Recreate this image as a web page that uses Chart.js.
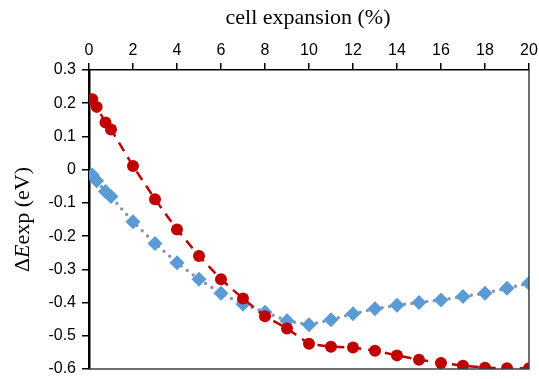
<!DOCTYPE html>
<html>
<head>
<meta charset="utf-8">
<script src="https://cdn.jsdelivr.net/npm/chart.js@4/dist/chart.umd.min.js"></script>
<style>
  html, body { margin: 0; padding: 0; background: #fff; }
  #wrap { width: 539px; height: 379px; }
</style>
</head>
<body>
<div id="wrap"><canvas id="c" width="539" height="379"></canvas></div>
<script>
// cell expansion (%)
const expansion = [0.15, 0.35, 0.75, 1, 2, 3, 4, 5, 6, 7, 8, 9, 10, 11, 12, 13, 14, 15, 16, 17, 18, 19, 20];
// red dashed series (circles)
const redVals = [0.212, 0.189, 0.142, 0.121, 0.011, -0.089, -0.18, -0.26, -0.33, -0.388, -0.441, -0.478,
                 -0.524, -0.533, -0.535, -0.545, -0.559, -0.572, -0.582, -0.59, -0.596, -0.598, -0.598];
// blue dotted series (diamonds)
const blueVals = [-0.016, -0.033, -0.066, -0.081, -0.157, -0.222, -0.28, -0.33, -0.372, -0.405, -0.429, -0.455,
                  -0.467, -0.452, -0.434, -0.419, -0.408, -0.4, -0.392, -0.382, -0.372, -0.357, -0.342];
const xTicks = [0, 2, 4, 6, 8, 10, 12, 14, 16, 18, 20];
const yTicks = [0.3, 0.2, 0.1, 0, -0.1, -0.2, -0.3, -0.4, -0.5, -0.6];

const toPts = vals => vals.map((v, i) => ({ x: expansion[i], y: v }));

// frame on right/bottom + titles
const decor = {
  id: 'decor',
  afterDraw(chart) {
    const { ctx, chartArea: a } = chart;
    ctx.save();
    ctx.strokeStyle = '#404040';
    ctx.lineWidth = 1.5;
    ctx.beginPath();
    ctx.moveTo(a.right, a.top);
    ctx.lineTo(a.right, a.bottom);
    ctx.lineTo(a.left, a.bottom);
    ctx.stroke();

    ctx.fillStyle = '#000';
    ctx.textBaseline = 'middle';
    ctx.textAlign = 'center';
    ctx.font = '22px "Liberation Serif"';
    ctx.fillText('cell expansion (%)', 308, 18);

    // y title with italic E
    const f = '22px "Liberation Serif"';
    const parts = [['Δ', f], ['E', 'italic ' + f], ['exp (eV)', f]];
    let total = 0;
    parts.forEach(p => { ctx.font = p[1]; total += ctx.measureText(p[0]).width; });
    ctx.translate(23, (a.top + a.bottom) / 2);
    ctx.rotate(-Math.PI / 2);
    ctx.textAlign = 'left';
    let x = -total / 2;
    parts.forEach(p => { ctx.font = p[1]; ctx.fillText(p[0], x, 0); x += ctx.measureText(p[0]).width; });
    ctx.restore();
  }
};

new Chart(document.getElementById('c').getContext('2d'), {
  type: 'scatter',
  data: {
    datasets: [
      { data: toPts(redVals), showLine: true, borderColor: '#C00000', borderWidth: 2.5,
        borderDash: [10, 7], backgroundColor: '#C00000', pointBackgroundColor: '#C00000',
        pointBorderWidth: 0, pointRadius: 6, pointStyle: 'circle' },
      { data: toPts(blueVals), showLine: true, borderColor: '#8797b2', borderWidth: 3.5,
        borderDash: [0, 7.5], borderCapStyle: 'round', pointBackgroundColor: '#5B9BD5',
        pointBorderWidth: 0, pointRadius: 7.5, pointStyle: 'rectRot' }
    ]
  },
  options: {
    responsive: false,
    animation: false,
    layout: { padding: { right: 10, bottom: 10, left: 0, top: 0 } },
    plugins: { legend: { display: false }, tooltip: { enabled: false } },
    scales: {
      x: {
        type: 'linear', position: 'top', min: 0, max: 20,
        afterBuildTicks: s => { s.ticks = xTicks.map(v => ({ value: v })); },
        afterFit: s => { s.height = 70; s.paddingLeft = 0; s.paddingRight = 0; },
        border: { color: '#000', width: 1.5 },
        grid: { drawOnChartArea: false, color: '#000', tickLength: 7, lineWidth: 1.5 },
        ticks: { color: '#000', font: { family: 'Liberation Sans', size: 16 }, padding: 3, maxRotation: 0 }
      },
      y: {
        min: -0.6, max: 0.3,
        afterBuildTicks: s => { s.ticks = yTicks.map(v => ({ value: v })); },
        afterFit: s => { s.width = 89; s.paddingTop = 0; s.paddingBottom = 0; },
        border: { color: '#000', width: 2.5 },
        grid: { drawOnChartArea: false, color: '#000', tickLength: 7, lineWidth: 1.5 },
        ticks: { color: '#000', font: { family: 'Liberation Sans', size: 16 }, padding: 6,
                 callback: v => (Math.round(v * 10) / 10).toString() }
      }
    }
  },
  plugins: [decor]
});
</script>
</body>
</html>
